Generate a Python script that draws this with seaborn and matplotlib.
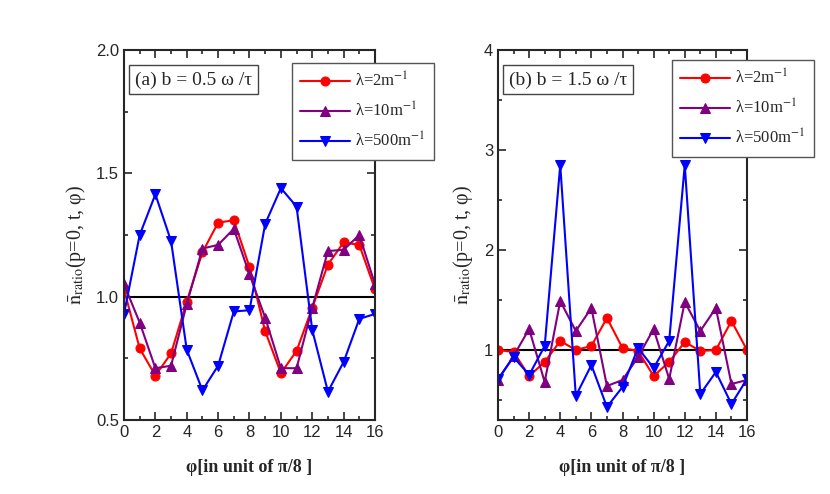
import numpy as np
import pandas as pd
import matplotlib
matplotlib.use("Agg")
import matplotlib.pyplot as plt
import seaborn as sns
from matplotlib.ticker import MultipleLocator, FormatStrFormatter

# ============================================
# DATA
# ============================================
phi = list(range(17))

# panel (a): b = 0.5 w/tau
a_lam2 = [1.03, 0.79, 0.68, 0.77, 0.98, 1.18, 1.30, 1.31, 1.12, 0.86, 0.69,
          0.78, 0.955, 1.13, 1.22, 1.21, 1.03]
a_lam10 = [1.05, 0.895, 0.71, 0.72, 0.97, 1.195, 1.21, 1.275, 1.09, 0.915, 0.71,
           0.71, 0.955, 1.185, 1.19, 1.25, 1.05]
a_lam500 = [0.93, 1.25, 1.415, 1.225, 0.785, 0.62, 0.72, 0.94, 0.945, 1.295, 1.44,
            1.365, 0.865, 0.615, 0.735, 0.91, 0.93]

# panel (b): b = 1.5 w/tau
b_lam2 = [1.0, 0.98, 0.74, 0.88, 1.09, 1.0, 1.04, 1.32, 1.02, 0.99, 0.74,
          0.88, 1.08, 0.99, 1.0, 1.29, 1.0]
b_lam10 = [0.70, 0.94, 1.21, 0.68, 1.49, 1.19, 1.42, 0.64, 0.70, 0.93, 1.21,
           0.71, 1.48, 1.19, 1.42, 0.66, 0.70]
b_lam500 = [0.71, 0.93, 0.75, 1.04, 2.85, 0.54, 0.85, 0.43, 0.63, 1.02, 0.82,
            1.09, 2.85, 0.56, 0.78, 0.46, 0.71]

labels = [r"λ=2m$^{-1}$", r"λ=10m$^{-1}$", r"λ=500m$^{-1}$"]
colors = ["#ff0000", "#800080", "#0000ff"]
markers = ["o", "^", "v"]
msizes = [6.5, 7.5, 7.5]

sns.set_style("ticks")
plt.rcParams["font.family"] = ["Liberation Sans", "DejaVu Sans"]
plt.rcParams["mathtext.fontset"] = "stix"
SERIF = ["Liberation Serif", "DejaVu Serif"]

fig = plt.figure(figsize=(8.3, 4.94), dpi=100)
ax1 = fig.add_axes([0.1494, 0.1498, 0.3024, 0.749])
ax2 = fig.add_axes([0.600, 0.1498, 0.300, 0.749])


def draw_panel(ax, series, tag, ylim, major, minor, leg_xy):
    df = pd.DataFrame({"phi": phi * 3,
                       "n": sum(series, []),
                       "lam": sum([[l] * len(phi) for l in labels], [])})
    ax.axhline(1.0, color="black", lw=1.5, zorder=1)
    for lab, col, mk, ms in zip(labels, colors, markers, msizes):
        sub = df[df["lam"] == lab]
        sns.lineplot(data=sub, x="phi", y="n", ax=ax, color=col, marker=mk,
                     markersize=ms, markeredgecolor=col, lw=1.5, label=lab)
    ax.set_xlim(0, 16)
    ax.set_ylim(*ylim)
    ax.xaxis.set_major_locator(MultipleLocator(2))
    ax.xaxis.set_minor_locator(MultipleLocator(1))
    ax.yaxis.set_major_locator(MultipleLocator(major))
    ax.yaxis.set_minor_locator(MultipleLocator(minor))
    ax.tick_params(which="both", direction="in", top=True, right=True,
                   width=1.2, labelsize=12)
    ax.tick_params(which="major", length=6)
    ax.tick_params(which="minor", length=3)
    for sp in ax.spines.values():
        sp.set_linewidth(1.5)
    ax.set_xlabel("φ[in unit of π/8 ]", family=SERIF, fontweight="bold",
                  fontsize=13, labelpad=14)
    ax.set_ylabel(r"$\bar{\mathrm{n}}_{\mathrm{ratio}}$(p=0, t, φ)",
                  family=SERIF, fontsize=14.5, labelpad=6)
    ax.yaxis.label.set_y(0.473)
    ax.text(0.044, 0.919, tag, transform=ax.transAxes, family=SERIF,
            fontsize=14, va="center",
            bbox=dict(facecolor="white", edgecolor="#444444",
                      lw=1.0, boxstyle="square,pad=0.3"))
    leg = ax.legend(loc="upper left", bbox_to_anchor=leg_xy, borderaxespad=0,
                    prop={"family": SERIF, "size": 12}, fancybox=False,
                    edgecolor="#555555", framealpha=1, handlelength=3.0,
                    handletextpad=0.3, borderpad=0.5, labelspacing=0.67)
    leg.get_frame().set_linewidth(1.0)
    leg.set_zorder(5)


draw_panel(ax1, [a_lam2, a_lam10, a_lam500], "(a) b = 0.5 ω /τ",
           (0.5, 2.0), 0.5, 0.25, (0.669, 0.965))
ax1.yaxis.set_major_formatter(FormatStrFormatter("%.1f"))
draw_panel(ax2, [b_lam2, b_lam10, b_lam500], "(b) b = 1.5 ω /τ",
           (0.3, 4.0), 1, 0.5, (0.699, 0.973))

fig.savefig("out.png", dpi=100)
